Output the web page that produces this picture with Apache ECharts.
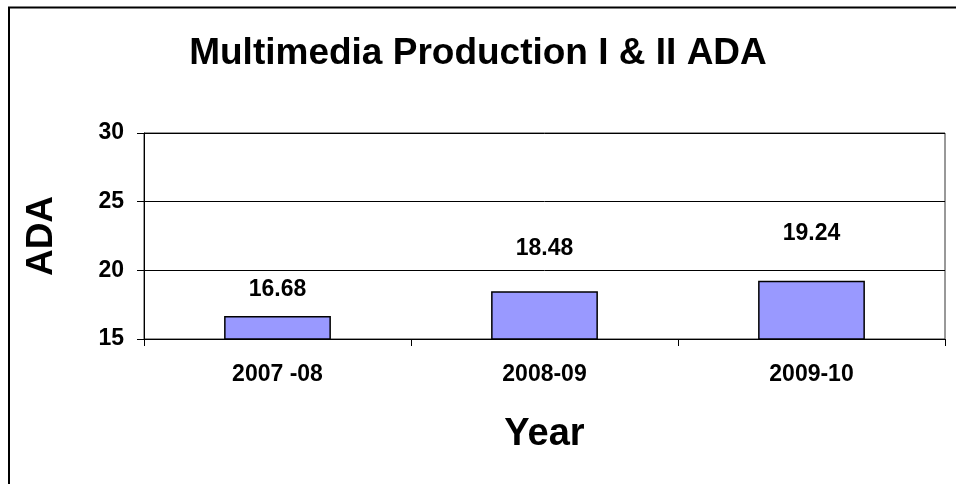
<!DOCTYPE html>
<html lang="en">

<head>
    <meta charset="UTF-8">
    <title>Multimedia Production I & II ADA</title>
    <style>
        * {
            padding: 0;
            margin: 0;
        }

        body,
        html {
            width: 100%;
            height: 100%;
            background: #fff;
        }

        #main {
            width: 956px;
            height: 484px;
        }
    </style>
</head>

<body>
    <div id="main"></div>
</body>

</html>
<script src="https://cdn.jsdelivr.net/npm/echarts@6/dist/echarts.min.js"></script>
<script>
    // data
    var years = ['2007 -08', '2008-09', '2009-10'];
    var adaValues = [16.68, 18.48, 19.24];
    var yTicks = { min: 15, max: 30, step: 5 };
    // label gap above each bar (the original labels sit at uneven heights)
    var labelGaps = [15, 31, 36];

    var font = '"Liberation Sans", Arial, sans-serif';
    var myChart = echarts.init(document.getElementById('main'));

    var option = {
        backgroundColor: '#fff',
        animation: false,
        title: {
            text: 'Multimedia Production I & II ADA',
            left: 'center',
            top: 35,
            padding: 0,
            textStyle: {
                color: '#000',
                fontFamily: font,
                fontWeight: 'bold',
                fontSize: 37
            }
        },
        // outer chart border
        graphic: [{
            type: 'rect',
            shape: { x: 9, y: 7.5, width: 980, height: 520 },
            style: { fill: 'none', stroke: '#000', lineWidth: 2 },
            silent: true
        }],
        grid: {
            left: 144,
            right: 11,
            top: 133,
            bottom: 145,
            show: true,
            borderColor: '#333',
            borderWidth: 1,
            containLabel: false
        },
        xAxis: {
            type: 'category',
            data: years,
            boundaryGap: true,
            name: 'Year',
            nameLocation: 'middle',
            nameGap: 77,
            nameTextStyle: {
                color: '#000',
                fontFamily: font,
                fontWeight: 'bold',
                fontSize: 38
            },
            axisLine: { lineStyle: { color: '#000', width: 1 } },
            axisTick: { show: true, inside: false, length: 7, lineStyle: { color: '#000' } },
            axisLabel: {
                margin: 24,
                color: '#000',
                fontFamily: font,
                fontWeight: 'bold',
                fontSize: 23
            }
        },
        yAxis: {
            type: 'value',
            min: yTicks.min,
            max: yTicks.max,
            interval: yTicks.step,
            name: 'ADA',
            nameLocation: 'middle',
            nameGap: 84,
            nameRotate: 90,
            nameTextStyle: {
                color: '#000',
                fontFamily: font,
                fontWeight: 'bold',
                fontSize: 37
            },
            axisLine: { show: true, lineStyle: { color: '#000', width: 1 } },
            axisTick: { show: true, length: 7, lineStyle: { color: '#000' } },
            axisLabel: {
                margin: 20,
                color: '#000',
                fontFamily: font,
                fontWeight: 'bold',
                fontSize: 23
            },
            splitLine: { show: true, lineStyle: { color: '#000', width: 1 } }
        },
        series: [{
            name: 'ADA',
            type: 'bar',
            barWidth: '40%',
            itemStyle: {
                color: '#9999FF',
                borderColor: '#000',
                borderWidth: 1.5
            },
            label: {
                show: true,
                position: 'top',
                color: '#000',
                fontFamily: font,
                fontWeight: 'bold',
                fontSize: 23
            },
            data: adaValues.map(function (v, i) {
                return { value: v, label: { distance: labelGaps[i] } };
            })
        }]
    };
    myChart.setOption(option);
</script>
